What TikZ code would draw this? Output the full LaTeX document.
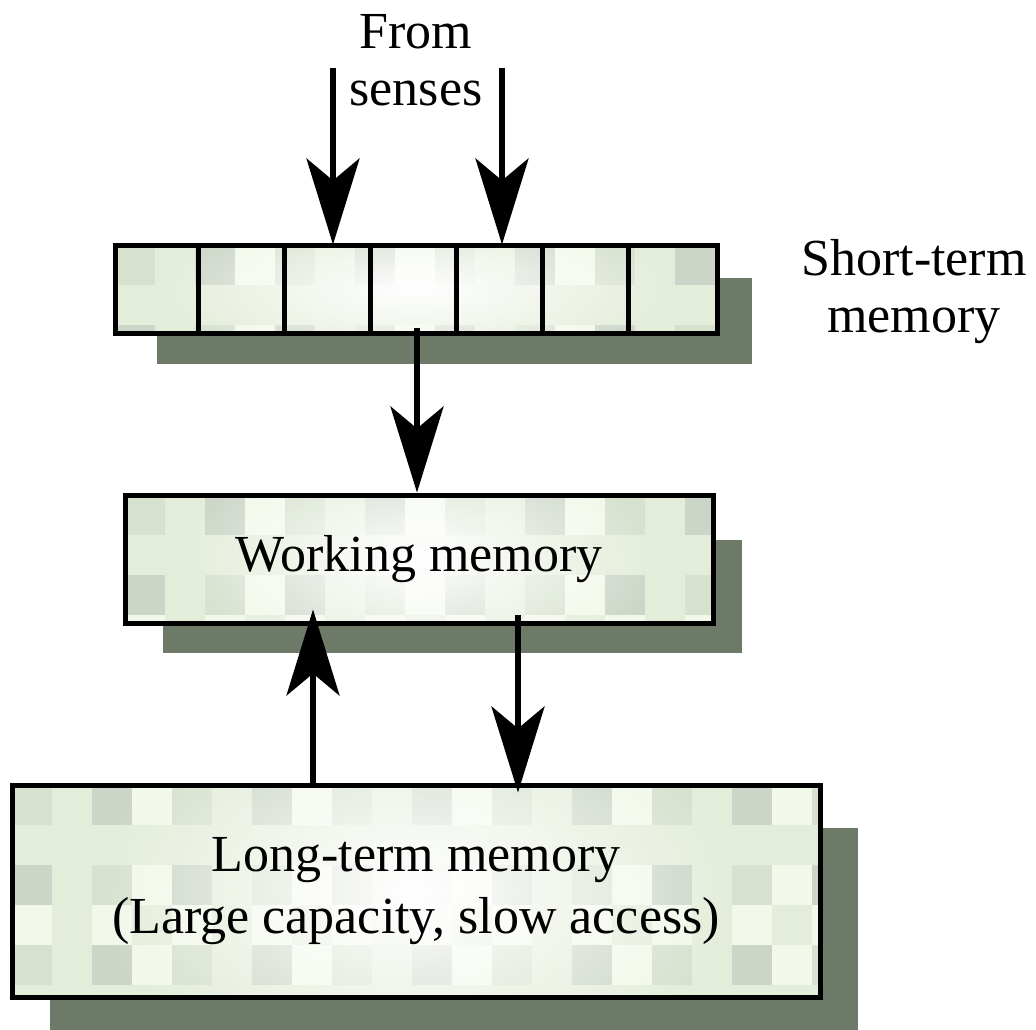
\documentclass[tikz,border=0pt]{standalone}
\usepackage{fontspec}
\setmainfont{Liberation Serif}
\usetikzlibrary{arrows.meta,fadings,calc}
\definecolor{shadowc}{RGB}{109,122,104}
\definecolor{tex0}{RGB}{214,225,206}
\definecolor{tex1}{RGB}{242,248,234}
\definecolor{tex2}{RGB}{204,214,200}
\definecolor{tex3}{RGB}{228,237,218}
\tikzfading[name=glowfade, inner color=transparent!0, outer color=transparent!100]
\newcommand{\texbox}[6]{%
  \begin{scope}
    \clip (#1,#2) rectangle (#3,#4);
    \foreach \i in {0,...,21}{
      \foreach \j in {0,...,6}{
        \pgfmathtruncatemacro\k{mod(\i*7+\j*3+\i*\j,4)}
        \fill[tex\k] ({#1+40*\i},{#2+40*\j}) rectangle ++(40,40);
      }}
    \fill[white, path fading=glowfade] ({(#1+#3)/2},{(#2+#4)/2}) ellipse ({#5} and {#6});
  \end{scope}}
\tikzset{
  shadowbox/.style={fill=shadowc},
  membox/.style={draw=black, line width=5pt, inner sep=0pt, align=center,
    font=\fontsize{52}{62}\selectfont},
  arr/.style={line width=6pt, -{Stealth[length=86pt, width=53pt, inset=22pt]}},
  lbl/.style={align=center, inner sep=0pt, font=\fontsize{52}{57}\selectfont}
}
\begin{document}
\begin{tikzpicture}[x=1pt, y=-1pt]
\useasboundingbox (0,0) rectangle (1036,1030);
% shadows
\fill[shadowbox] (157,278) rectangle (752,364);
\fill[shadowbox] (163,540) rectangle (742,653);
\fill[shadowbox] (50,828) rectangle (858,1030);
% textures
\texbox{115}{245}{717}{333}{260}{80}
\texbox{125}{495}{713}{623}{240}{120}
\texbox{12}{785}{820}{997}{320}{190}
% boxes
\node[membox, minimum width=602, minimum height=88] (stm) at (416,289) {};
\foreach \k in {1,...,6}
  \draw[line width=5pt] ($(stm.north west)+(86*\k,0)$) -- ($(stm.south west)+(86*\k,0)$);
\node[membox, minimum width=588, minimum height=128] (wm) at (419,559) {Working memory};
\node[membox, minimum width=808, minimum height=212] (ltm) at (416,891)
  {Long-term memory\\(Large capacity, slow access)};
% labels
\node[lbl] (from) at (416,60) {From\\senses};
\node[lbl] (stlabel) at (914,292) {Short-term\\memory};
% arrows
\coordinate (s1) at (333,68);
\coordinate (s2) at (502,68);
\draw[arr] (s1) -- ($(s1 |- stm.north)+(0,2)$);
\draw[arr] (s2) -- ($(s2 |- stm.north)+(0,2)$);
\draw[arr] ($(stm.south)+(1,-8)$) -- ($(stm.south |- wm.north)+(1,0)$);
\coordinate (d1) at (518,615);
\draw[arr] (d1) -- ($(d1 |- ltm.north)+(0,10)$);
\coordinate (u1) at (313,0);
\draw[arr] (u1 |- ltm.north) -- ($(u1 |- wm.south)+(0,-16)$);
\end{tikzpicture}
\end{document}
